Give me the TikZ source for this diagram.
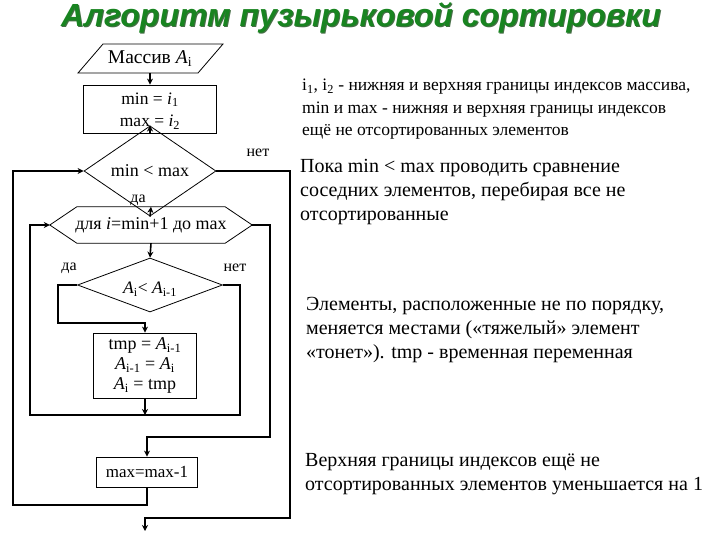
\documentclass[tikz,border=0pt]{standalone}
\usepackage{fontspec}
\setmainfont{Liberation Serif}
\newfontfamily\titlefont{Liberation Sans}
\usetikzlibrary{arrows.meta,shapes.geometric}
\definecolor{titlegreen}{RGB}{24,132,32}
\definecolor{titleshadow}{RGB}{70,110,70}
\begin{document}
\begin{tikzpicture}[x=1pt,y=-1pt,
  shapeline/.style={draw=black,line width=0.8pt},
  conn/.style={draw=black,line width=1.6pt},
  arr/.style={conn,-{Stealth[length=6pt,width=6pt]}},
  fc/.style={font=\fontsize{18}{22}\selectfont,inner sep=0pt},
  note/.style={anchor=north west,align=left,inner sep=0pt},
  bignote/.style={note,font=\fontsize{20}{24}\selectfont},
  lbl/.style={font=\fontsize{16}{16}\selectfont,inner sep=0pt}]
\useasboundingbox (0,0) rectangle (720,540);
% title
\node[font=\titlefont\bfseries\itshape\fontsize{32}{32}\selectfont,text=titleshadow] (titlesh) at (362,19) {Алгоритм пузырьковой сортировки};
\node[font=\titlefont\bfseries\itshape\fontsize{32}{32}\selectfont,text=titlegreen] (title) at (361,18) {Алгоритм пузырьковой сортировки};
% input parallelogram
\coordinate (p1) at (78,73);
\coordinate (p2) at (103,44);
\coordinate (p3) at (223,44);
\coordinate (p4) at (198,73);
\draw[shapeline] (p1) -- (p2) -- (p3) -- (p4) -- cycle;
\node[fc,font=\fontsize{19.5}{22}\selectfont] (inp) at (150,59) {Массив \textit{A}\textsubscript{i}};
\coordinate (inpS) at (150,73);
% init rectangle
\node[shapeline,minimum width=133pt,minimum height=48pt,inner sep=0pt] (init) at (150,109) {};
\node[fc,font=\fontsize{17.5}{22.5}\selectfont,align=center] (initt) at (150,111)
  {min = \textit{i}\textsubscript{1}\\max = \textit{i}\textsubscript{2}};
% diamond 1
\node[fc,shapeline,diamond,minimum width=132pt,minimum height=48pt] (d1) at (150,171) {min < max};
% hexagon (loop)
\node[fc,minimum width=202pt,minimum height=36pt] (hex) at (151,225) {для \textit{i}=min+1 до max};
\draw[shapeline] (hex.west) -- ([xshift=27pt]hex.north west) -- ([xshift=-27pt]hex.north east) -- (hex.east)
  -- ([xshift=-27pt]hex.south east) -- ([xshift=27pt]hex.south west) -- cycle;
% diamond 2
\node[fc,shapeline,diamond,minimum width=145pt,minimum height=54pt] (d2) at (150,285) {};
\node[fc,font=\fontsize{17.5}{20}\selectfont] (d2t) at (150,289) {\textit{A}\textsubscript{i}< \textit{A}\textsubscript{i-1}};
% swap rectangle
\node[fc,font=\fontsize{18}{20}\selectfont,shapeline,minimum width=103pt,minimum height=65pt,align=center] (swap) at (145,365.5)
  {tmp = \textit{A}\textsubscript{i-1}\\\textit{A}\textsubscript{i-1} = \textit{A}\textsubscript{i}\\\textit{A}\textsubscript{i} = tmp};
% max box
\node[fc,font=\fontsize{17}{18}\selectfont,shapeline,minimum width=101pt,minimum height=30pt] (dec) at (147,472) {max=max-1};
% connector points
\coordinate (j) at (145,415);
\coordinate (endp) at (145,531);
% connectors
\draw[arr] (inpS) -- (init.north);
\draw[arr] (init.south) -- (d1.north);
\draw[arr] (d1.south) -- (hex.north);
\draw[arr] (hex.south) -- (d2.north);
\draw[arr] (d2.west) -- (58,285) -- (58,323) -- (swap.north |- 0,323) -- (swap.north);
\draw[conn] (d2.east) -- (240,285) -- (240,415) -- (j);
\draw[arr] (swap.south) -- (j);
\draw[arr] (j) -- (30,415) -- (30,225) -- (hex.west);
\draw[arr] (hex.east) -- (270,225) -- (270,437) -- (dec.north |- 0,437) -- (dec.north);
\draw[arr] (dec.south) -- (147,505) -- (13,505) -- (13,171) -- (d1.west);
\draw[arr] (d1.east) -- (290,171) -- (290,518) -- (145,518) -- (endp);
% labels
\node[lbl] (l1) at (258,153) {нет};
\node[lbl] (l2) at (138,200) {да};
\node[lbl] (l3) at (69,268) {да};
\node[lbl] (l4) at (235,268) {нет};
% notes
\node[note,font=\fontsize{17.5}{22.5}\selectfont] (n1) at (302,79)
  {i\textsubscript{1}, i\textsubscript{2} - нижняя и верхняя границы индексов массива,\\min и max - нижняя и верхняя границы индексов\\ещё не отсортированных элементов};
\node[bignote] (n2) at (300,159)
  {Пока min < max проводить сравнение\\соседних элементов, перебирая все не\\отсортированные};
\node[bignote] (n3) at (306,297.5)
  {Элементы, расположенные не по порядку,\\меняется местами («тяжелый» элемент\\«тонет»). tmp - временная переменная};
\node[bignote] (n4) at (305,453)
  {Верхняя границы индексов ещё не\\отсортированных элементов уменьшается на 1};
\end{tikzpicture}
\end{document}
